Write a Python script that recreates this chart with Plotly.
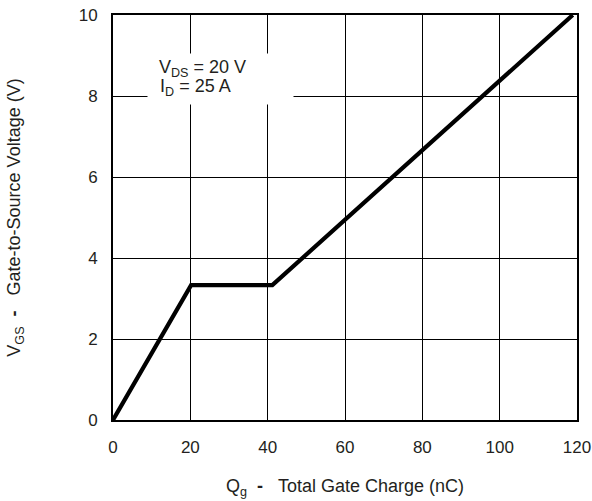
import plotly.graph_objects as go

# Data
qg_nc = [0, 20.2, 41.2, 118.9]
vgs_v = [0, 3.33, 3.33, 10.0]
x_ticks = [0, 20, 40, 60, 80, 100, 120]
y_ticks = [0, 2, 4, 6, 8, 10]
note_lines = ["V<sub>DS</sub> = 20 V", "I<sub>D</sub> = 25 A"]

FONT = "Liberation Sans, Arial, sans-serif"
TXT = "#231f20"

fig = go.Figure()
fig.add_trace(go.Scatter(x=qg_nc, y=vgs_v, mode="lines",
                         line=dict(color="black", width=4.2),
                         hoverinfo="skip", showlegend=False))

# white box behind the condition text
fig.add_annotation(x=8.9, y=9.07, xref="x", yref="y", xanchor="left", yanchor="top",
                   text=" ", showarrow=False, bgcolor="white", width=145, height=50,
                   borderpad=0)
fig.add_annotation(x=11.6, y=8.68, xref="x", yref="y", xanchor="left", yanchor="middle",
                   text=note_lines[0], showarrow=False, align="left", borderpad=0,
                   font=dict(family=FONT, size=18, color=TXT))
fig.add_annotation(x=11.8, y=8.22, xref="x", yref="y", xanchor="left", yanchor="middle",
                   text=note_lines[1], showarrow=False, align="left", borderpad=0,
                   font=dict(family=FONT, size=18, color=TXT))

fig.update_layout(
    width=592, height=501,
    margin=dict(l=113, r=15, t=15, b=81, autoexpand=False),
    paper_bgcolor="white", plot_bgcolor="white",
    font=dict(family=FONT, size=17, color=TXT),
    xaxis=dict(range=[0, 120], tickvals=x_ticks, showgrid=True, gridcolor="black",
               gridwidth=1, showline=True, linecolor="black", linewidth=2, mirror=True,
               ticks="", ticklabelstandoff=11, zeroline=False, automargin=False,
               title=dict(text="Q<sub>g</sub>\u00a0\u00a0<b>-</b>\u00a0\u00a0\u00a0Total Gate Charge (nC)",
                          font=dict(size=18), standoff=23)),
    yaxis=dict(range=[0, 10], tickvals=y_ticks, showgrid=True, gridcolor="black",
               gridwidth=1, showline=True, linecolor="black", linewidth=2, mirror=True,
               ticks="", ticklabelstandoff=10, zeroline=False, automargin=False,
               title=dict(text="V<sub>GS</sub>\u00a0\u00a0<b>-</b>\u00a0\u00a0\u00a0Gate-to-Source Voltage (V)",
                          font=dict(size=18), standoff=53)),
)

fig.write_html("out.html")
